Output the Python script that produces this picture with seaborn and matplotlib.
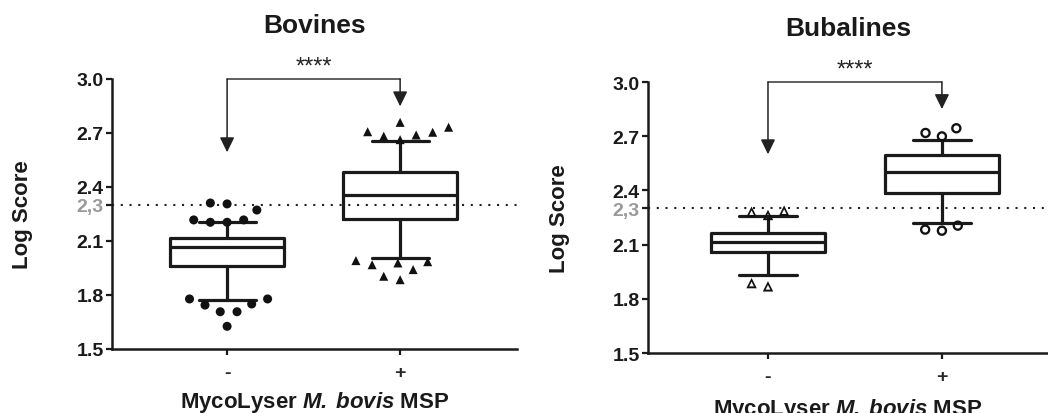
import numpy as np
import pandas as pd
import seaborn as sns
import matplotlib.pyplot as plt
from matplotlib.path import Path

# data
groups = ["-", "+"]
yticks = [1.5, 1.8, 2.1, 2.3, 2.4, 2.7, 3.0]
ytick_labels = ["1.5", "1.8", "2.1", "2,3", "2.4", "2.7", "3.0"]
cutoff = 2.3

# bovines: q1, median, q3, lower whisker, upper whisker
bov_neg_box = [1.963, 2.065, 2.117, 1.774, 2.204]
bov_pos_box = [2.222, 2.356, 2.485, 2.004, 2.654]
bov_neg_out = [2.311, 2.306, 2.272, 2.217, 2.204, 2.204, 2.217,
               1.778, 1.778, 1.744, 1.750, 1.707, 1.707, 1.626]
bov_pos_out = [2.759, 2.732, 2.707, 2.704, 2.689, 2.682, 2.663,
               1.991, 1.985, 1.978, 1.968, 1.941, 1.904, 1.885]

# bubalines
bub_neg_box = [2.057, 2.113, 2.163, 1.932, 2.260]
bub_pos_box = [2.384, 2.500, 2.596, 2.218, 2.679]
bub_neg_out = [2.264, 2.282, 2.288, 1.869, 1.887]
bub_pos_out = [2.744, 2.718, 2.699, 2.205, 2.183, 2.177]

# arrow tips of the significance bracket (left, right)
bov_tips = [2.593, 2.848]
bub_tips = [2.600, 2.850]


def box_stats(v):
    return dict(q1=v[0], med=v[1], q3=v[2], whislo=v[3], whishi=v[4], fliers=[])


def ring(kind):
    if kind == "o":
        t = np.linspace(0, 2 * np.pi, 48, endpoint=False)
        outer = np.c_[np.cos(t), np.sin(t)]
        inner = 0.55 * outer[::-1]
    else:
        outer = np.array([[0, 1], [-1, -1], [1, -1]], float)
        c = outer.mean(axis=0)
        inner = (c + 0.45 * (outer - c))[::-1]
    verts, codes = [], []
    for poly in (outer, inner):
        verts += list(poly) + [poly[0]]
        codes += [Path.MOVETO] + [Path.LINETO] * (len(poly) - 1) + [Path.CLOSEPOLY]
    return Path(np.array(verts), codes)


sns.set_theme(style="white")
plt.rcParams["font.family"] = ["Liberation Sans", "DejaVu Sans"]
plt.rcParams["font.weight"] = "bold"
plt.rcParams["mathtext.fontset"] = "custom"
plt.rcParams["mathtext.rm"] = "Liberation Sans:bold"
plt.rcParams["mathtext.bf"] = "Liberation Sans:bold"
plt.rcParams["mathtext.bfit"] = "Liberation Sans:italic:bold"

fig = plt.figure(figsize=(10.48, 4.14), dpi=100)
ax1 = fig.add_axes([0.1069, 0.1546, 0.3865, 0.6522])
ax2 = fig.add_axes([0.6183, 0.1449, 0.3817, 0.6546])

panels = [
    (ax1, "Bovines", [bov_neg_box, bov_pos_box], [bov_neg_out, bov_pos_out],
     ["o", "^"], [True, True], bov_tips, (-0.665, 1.676), -0.148),
    (ax2, "Bubalines", [bub_neg_box, bub_pos_box], [bub_neg_out, bub_pos_out],
     ["^", "o"], [False, False], bub_tips, (-0.69, 1.61), -0.16),
]

lw = 2.3
for ax, title, boxes, outs, markers, filled, tips, xlim, xlab_y in panels:
    ax.axhline(cutoff, color="#222222", lw=1.5, ls=(0, (1, 3.2)), zorder=1)
    ax.bxp([box_stats(b) for b in boxes], positions=[0, 1], widths=0.66,
           capwidths=0.33, showfliers=False,
           boxprops=dict(color="#1a1a1a", lw=lw),
           medianprops=dict(color="#1a1a1a", lw=lw),
           whiskerprops=dict(color="#1a1a1a", lw=lw),
           capprops=dict(color="#1a1a1a", lw=lw))

    for g, vals, m, f in zip(groups, outs, markers, filled):
        df = pd.DataFrame({"group": g, "score": vals})
        n0 = len(ax.collections)
        mk = m if f else ring(m)
        sns.swarmplot(data=df, x="group", y="score", order=groups, ax=ax,
                      color="#111111", marker=mk, size=6.5 if f else 7.5)
        for coll in ax.collections[n0:]:
            coll.set_edgecolor("none")
            coll.set_linewidth(5.0 if f else 4.0)
            coll.set_zorder(4)

    # significance bracket
    ax.plot([0, 1], [3.0, 3.0], color="#333333", lw=1.1, clip_on=False)
    for x, tip in zip([0, 1], tips):
        ax.annotate("", xy=(x, tip), xytext=(x, 3.0), annotation_clip=False,
                    arrowprops=dict(arrowstyle="-|>,head_length=0.45,head_width=0.22",
                                    color="#222222", lw=1.1, mutation_scale=20,
                                    shrinkA=0, shrinkB=0))
    ax.text(0.5, 3.035, "****", ha="center", va="baseline", fontsize=17,
            fontweight="normal", color="#222222")

    ax.set_xlim(*xlim)
    ax.set_ylim(1.5, 3.0)
    ax.set_xticks([0, 1])
    ax.set_xticklabels(groups, fontsize=14, fontweight="bold")
    ax.set_yticks(yticks)
    ax.set_yticklabels(ytick_labels, fontsize=14, fontweight="bold")
    for lab in ax.get_yticklabels():
        lab.set_color("#9a9a9a" if lab.get_text() == "2,3" else "#1a1a1a")
    ax.tick_params(axis="both", direction="out", length=4, width=1.6,
                   color="#1a1a1a", left=True, bottom=True)
    ax.tick_params(axis="x", pad=7)
    ax.tick_params(axis="y", pad=2)
    for s in ["top", "right"]:
        ax.spines[s].set_visible(False)
    for s in ["left", "bottom"]:
        ax.spines[s].set_color("#1a1a1a")
        ax.spines[s].set_linewidth(1.8)

    ax.set_ylabel("Log Score", fontsize=16, fontweight="bold", color="#1a1a1a")
    ax.yaxis.set_label_coords(-0.195, 0.5)
    ax.set_xlabel(r"MycoLyser $\mathbfit{M.\,bovis}$ MSP", fontsize=16,
                  fontweight="bold", color="#1a1a1a")
    ax.xaxis.set_label_coords(0.5, xlab_y)
    ax.set_title(title, fontsize=19, fontweight="bold", color="#1a1a1a",
                 y=1.175, pad=0)

fig.savefig("out.png", dpi=100)
